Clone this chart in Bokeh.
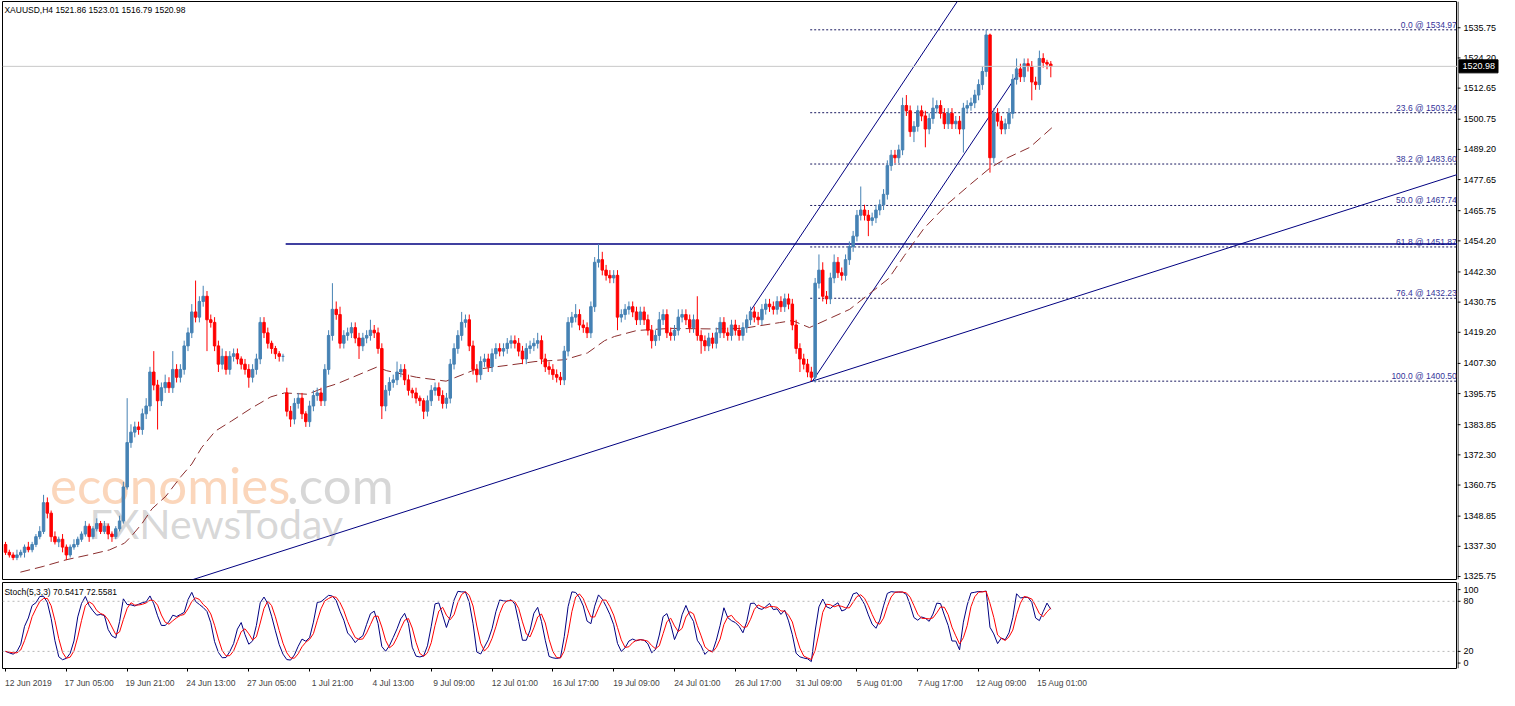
import numpy as np
import pandas as pd
from bokeh.plotting import figure
from bokeh.layouts import column, row
from bokeh.models import Range1d, FixedTicker, LinearAxis, Span, ColumnDataSource
from bokeh.core.properties import value
from bokeh.embed import file_html
from bokeh.resources import INLINE

# XAUUSD H4 closes
closes = [
    1335, 1334, 1333, 1334, 1335, 1337, 1336, 1338, 1341, 1343, 1354, 1350, 1341, 1339, 1340, 1337, 1334, 1337, 1338, 1340,
    1342, 1345, 1341, 1344, 1346, 1343, 1345, 1342, 1341, 1344, 1347, 1360, 1377, 1381, 1383, 1382, 1388, 1391, 1404, 1399,
    1393, 1398, 1400, 1398, 1405, 1402, 1405, 1414, 1419, 1427, 1425, 1431, 1433, 1424, 1423, 1414, 1407, 1410, 1405, 1410,
    1411, 1409, 1407, 1405, 1402, 1405, 1409, 1423, 1419, 1415, 1413, 1411, 1410, 1410, 1389, 1386, 1392, 1394, 1388, 1385,
    1391, 1395, 1396, 1393, 1405, 1418, 1428, 1426, 1415, 1418, 1419, 1421, 1417, 1414, 1417, 1418, 1420, 1419, 1413, 1391,
    1397, 1400, 1401, 1404, 1405, 1401, 1397, 1396, 1394, 1393, 1389, 1393, 1397, 1398, 1395, 1392, 1394, 1407, 1413, 1418,
    1423, 1424, 1414, 1405, 1403, 1408, 1409, 1406, 1411, 1413, 1412, 1413, 1415, 1416, 1415, 1412, 1409, 1413, 1414, 1415,
    1416, 1409, 1406, 1405, 1403, 1402, 1401, 1412, 1423, 1425, 1426, 1422, 1421, 1419, 1429, 1446, 1447, 1443, 1441, 1440,
    1441, 1425, 1426, 1428, 1429, 1427, 1424, 1427, 1424, 1420, 1416, 1418, 1424, 1426, 1419, 1418, 1420, 1425, 1426, 1424,
    1421, 1424, 1418, 1416, 1414, 1417, 1415, 1419, 1423, 1419, 1418, 1422, 1420, 1418, 1421, 1424, 1427, 1425, 1424, 1428,
    1430, 1429, 1428, 1431, 1429, 1432, 1430, 1422, 1413, 1409, 1407, 1404, 1402, 1438, 1443, 1433, 1432, 1440, 1446, 1442,
    1441, 1447, 1452, 1456, 1464, 1466, 1464, 1462, 1463, 1466, 1468, 1472, 1483, 1487, 1486, 1489, 1506, 1504, 1496, 1498,
    1504, 1502, 1497, 1501, 1505, 1506, 1503, 1499, 1503, 1499, 1500, 1497, 1505, 1506, 1507, 1510, 1514, 1519, 1533, 1486,
    1503, 1500, 1497, 1499, 1503, 1516, 1520, 1517, 1522, 1521, 1515, 1514, 1524, 1522.5, 1521.86, 1520.98,
]
first_open = 1338.0
gap_opens = {74: 1396.0}

upper_wick = [
    1, 1, 1, 2, 1, 1, 2, 1, 1, 2, 3, 2, 1, 2, 1, 2, 1, 1, 2, 1,
    1, 2, 1, 1, 2, 1, 2, 1, 1, 1, 2, 2, 17, 3, 2, 2, 2, 3, 2, 8,
    2, 2, 3, 2, 7, 2, 2, 2, 2, 3, 12, 2, 4, 2, 2, 2, 2, 3, 2, 2,
    2, 2, 1, 2, 2, 2, 2, 2, 2, 2, 1, 1, 1, 1, 2, 2, 2, 2, 2, 1,
    2, 2, 2, 2, 2, 2, 10, 3, 3, 2, 2, 2, 2, 2, 2, 2, 4, 2, 2, 2,
    2, 2, 2, 4, 2, 2, 2, 1, 2, 1, 1, 2, 2, 2, 2, 2, 2, 2, 2, 2,
    4, 2, 2, 2, 2, 2, 2, 2, 2, 2, 2, 2, 2, 2, 2, 2, 2, 2, 2, 2,
    3, 2, 2, 2, 2, 2, 2, 2, 2, 2, 4, 2, 2, 2, 2, 2, 6, 3, 2, 2,
    2, 2, 2, 2, 2, 2, 2, 2, 2, 2, 2, 2, 3, 2, 2, 2, 2, 3, 2, 2,
    2, 2, 9, 2, 2, 2, 2, 2, 2, 2, 2, 2, 2, 2, 2, 2, 2, 2, 2, 2,
    2, 2, 2, 2, 2, 2, 2, 2, 2, 2, 2, 2, 2, 2, 6, 3, 2, 2, 3, 2,
    2, 2, 2, 2, 2, 9, 2, 2, 2, 2, 2, 2, 2, 2, 2, 2, 3, 4, 2, 2,
    2, 2, 2, 2, 4, 2, 2, 2, 2, 2, 2, 2, 2, 2, 2, 2, 2, 2, 1.97, 0.5,
    2, 2, 2, 2, 2, 2, 4, 2, 2, 2, 2, 2, 3, 2, 1, 1.15,
]
lower_wick = [
    1, 1, 1, 1, 1, 2, 1, 1, 1, 1, 1, 2, 2, 1, 2, 2, 2, 1, 1, 1,
    1, 1, 2, 1, 1, 1, 1, 2, 2, 1, 1, 1, 1, 2, 2, 2, 2, 2, 2, 2,
    11, 2, 2, 2, 2, 2, 2, 2, 2, 2, 2, 2, 2, 12, 2, 2, 3, 2, 2, 2,
    2, 2, 2, 2, 4, 2, 2, 2, 2, 2, 2, 2, 2, 2, 2, 3, 2, 2, 2, 2,
    2, 2, 2, 2, 2, 2, 2, 2, 2, 2, 2, 2, 2, 5, 2, 2, 2, 2, 2, 5,
    2, 2, 2, 2, 2, 2, 2, 2, 2, 2, 3, 2, 2, 2, 2, 2, 2, 2, 2, 2,
    2, 2, 2, 2, 3, 2, 2, 2, 2, 2, 2, 2, 2, 2, 2, 2, 2, 2, 2, 2,
    2, 2, 2, 2, 2, 2, 2, 2, 2, 2, 2, 2, 2, 2, 2, 2, 2, 2, 2, 2,
    2, 5, 2, 2, 2, 2, 2, 2, 2, 2, 3, 2, 2, 2, 2, 2, 2, 2, 2, 2,
    2, 2, 2, 5, 2, 2, 2, 2, 2, 2, 2, 2, 2, 2, 2, 2, 2, 2, 2, 2,
    2, 2, 2, 2, 2, 2, 2, 2, 2, 5, 2, 2, 1.5, 2, 2, 2, 2, 2, 2, 2,
    2, 2, 2, 2, 2, 2, 2, 6, 2, 2, 2, 2, 2, 2, 2, 2, 2, 2, 2, 4,
    2, 2, 7, 2, 2, 2, 2, 2, 2, 2, 2, 2, 9, 2, 2, 2, 2, 2, 2, 5.7,
    2, 2, 2, 2, 2, 2, 2, 2, 2, 2, 7, 2, 2, 2, 2, 4.19,
]

# moving average (dashed) at these bar positions
ma_bar = [3.9, 9.9, 16.1, 22.1, 27.3, 31.3, 33.3, 35.9, 38.5, 42.2, 46.1, 49.0, 51.6, 55.2, 59.4, 64.6, 69.8,
          73.4, 79.4, 83.9, 87.2, 97.7, 100.3, 108.1, 115.9, 118.5, 123.7, 133.3, 139.3, 147.1, 153.1, 157.6,
          160.2, 166.1, 175.0, 185.4, 194.0, 203.6, 207.0, 211.5, 215.6, 222.1, 232.3, 236.5, 241.7, 247.9,
          253.9, 259.1, 263.5, 269.5, 275.3]
ma_val = [1327.4, 1329.6, 1332.2, 1334.1, 1335.9, 1338.5, 1341.5, 1346.0, 1351.6, 1356.5, 1363.9, 1368.8,
          1375.1, 1381.4, 1385.2, 1390.1, 1394.5, 1396.0, 1395.5, 1398.0, 1399.5, 1405.9, 1404.5, 1402.0,
          1400.5, 1402.0, 1405.0, 1406.8, 1408.0, 1408.7, 1411.3, 1416.0, 1417.6, 1419.9, 1420.7, 1420.5,
          1420.7, 1422.9, 1423.7, 1421.0, 1423.7, 1428.0, 1439.7, 1448.6, 1459.1, 1468.4, 1475.9, 1482.2,
          1485.9, 1490.0, 1497.5]

# drawing objects
fib_levels = ["0.0", "23.6", "38.2", "50.0", "61.8", "76.4", "100.0"]
fib_prices = [1534.97, 1503.24, 1483.60, 1467.74, 1451.87, 1432.23, 1400.50]
fib_start = 211.7
trend_x = [0, 382]
trend_y = [1301.6, 1479.6]
chan_low_x = [212.3, 266.4]
chan_low_y = [1400.5, 1518.3]
chan_up_x = [195.8, 252.0]
chan_up_y = [1427.0, 1549.3]
res_x = [73.7, 382]
res_y = [1453.0, 1453.0]
bid = 1520.98

price_ticks = [1325.75, 1337.30, 1348.85, 1360.75, 1372.30, 1383.85, 1395.75, 1407.30, 1419.20, 1430.75,
               1442.30, 1454.20, 1465.75, 1477.65, 1489.20, 1500.75, 1512.65, 1524.20, 1535.75]
stoch_ticks = [6, 20, 80, 94]
stoch_tick_labels = ["0", "20", "80", "100"]
time_ticks = [0, 16, 32, 48, 64, 80, 96, 112, 128, 144, 160, 176, 192, 208, 224, 240, 256, 272]
time_labels = ["12 Jun 2019", "17 Jun 05:00", "19 Jun 21:00", "24 Jun 13:00", "27 Jun 05:00", "1 Jul 21:00",
               "4 Jul 13:00", "9 Jul 09:00", "12 Jul 01:00", "16 Jul 17:00", "19 Jul 09:00", "24 Jul 01:00",
               "26 Jul 17:00", "31 Jul 09:00", "5 Aug 01:00", "7 Aug 17:00", "12 Aug 09:00", "15 Aug 01:00"]

header = "XAUUSD,H4  1521.86 1523.01 1516.79 1520.98"
stoch_title = "Stoch(5,3,3) 70.5417 72.5581"

FONT = "Liberation Sans"
BULL = "#4682B4"
BEAR = "#FF0000"
NAVY = "#000080"
AXIS_W = 42

n = len(closes)
bars = np.arange(n)
close = np.array(closes, dtype=float)
opens = np.array([first_open] + closes[:-1], dtype=float)
for i, o in gap_opens.items():
    opens[i] = o
high = np.maximum(opens, close) + np.array(upper_wick)
low = np.minimum(opens, close) - np.array(lower_wick)
colors = [BULL if c >= o else BEAR for o, c in zip(opens, close)]

src = ColumnDataSource(dict(x=bars, h=high, l=low, top=np.maximum(opens, close),
                            bot=np.minimum(opens, close), col=colors))

# stochastic 5,3,3 from the candles
hs, ls, cs = pd.Series(high), pd.Series(low), pd.Series(close)
hh = hs.rolling(5, min_periods=1).max()
ll = ls.rolling(5, min_periods=1).min()
num = (cs - ll).rolling(3, min_periods=1).sum()
den = (hh - ll).rolling(3, min_periods=1).sum()
k_line = (100 * num / den).clip(0, 100)
d_line = k_line.rolling(3, min_periods=1).mean()

x_end = 382.0
x_rng = Range1d(-0.8, x_end)


def axis_panel(height, y_range, ticks, labels, top, bottom):
    # MT4 style price scale drawn as its own small panel on the right
    a = figure(width=AXIS_W, height=height, x_range=Range1d(0, AXIS_W), y_range=y_range,
               x_axis_location=None, y_axis_location=None, toolbar_location=None,
               output_backend="svg", min_border_left=0, min_border_right=0,
               min_border_top=top, min_border_bottom=bottom)
    a.outline_line_color = None
    a.grid.grid_line_color = None
    a.add_layout(Span(location=0.5, dimension="height", line_color="black", line_width=1))
    a.segment(x0=[0] * len(ticks), y0=ticks, x1=[3] * len(ticks), y1=ticks, line_color="black")
    a.text(x=[6] * len(ticks), y=ticks, text=labels, text_baseline="middle", text_align="left",
           text_font=value(FONT), text_font_size="9px", text_color="black")
    return a


p = figure(width=1499 - AXIS_W, height=580, x_range=x_rng, y_range=Range1d(1324.6, 1545.8),
           x_axis_location=None, y_axis_location=None, toolbar_location=None,
           output_backend="svg", min_border_left=2, min_border_right=0,
           min_border_top=1, min_border_bottom=1)
p.outline_line_color = "black"
p.grid.grid_line_color = None

# watermark
p.text(x=[11.7], y=[1360.9], text=["economies"], text_font=value("Lato"), text_font_size="51px",
       text_color="#F7AE78", text_alpha=0.5, text_baseline="alphabetic")
p.text(x=[74.0], y=[1360.9], text=[".com"], text_font=value("Lato"), text_font_size="51px",
       text_color="#B0B0B0", text_alpha=0.5, text_baseline="alphabetic")
p.text(x=[22.1], y=[1346.0], text=["FXNewsToday"], text_font=value("Lato"), text_font_size="41px",
       text_color="#A8A8A8", text_alpha=0.45, text_baseline="alphabetic")

p.add_layout(Span(location=bid, dimension="width", line_color="#C8C8C8", line_width=1))

# fibonacci levels
p.segment(x0=[fib_start] * len(fib_prices), y0=fib_prices, x1=[x_end] * len(fib_prices), y1=fib_prices,
          line_color="#1A1A60", line_dash="2 2", line_width=1)
p.text(x=[x_end - 0.2] * len(fib_prices), y=fib_prices,
       text=[f"{lv} @ {pr:.2f}" for lv, pr in zip(fib_levels, fib_prices)],
       text_align="right", text_baseline="bottom", text_font=value(FONT), text_font_size="8.5px",
       text_color="#333399")

# trend / channel lines
p.line(trend_x, trend_y, line_color=NAVY, line_width=1)
p.line(chan_low_x, chan_low_y, line_color=NAVY, line_width=1)
p.line(chan_up_x, chan_up_y, line_color=NAVY, line_width=1)
p.line(res_x, res_y, line_color=NAVY, line_width=1.3)

p.line(ma_bar, ma_val, line_color="#8B2E2E", line_dash="10 5", line_width=1)

p.segment(x0="x", y0="h", x1="x", y1="l", line_color="col", line_width=1, source=src)
p.vbar(x="x", width=0.65, top="top", bottom="bot", fill_color="col", line_color="col", source=src)

p.text(x=[-0.3], y=[1544.3], text=[header], text_baseline="top", text_font=value(FONT),
       text_font_size="8.5px", text_color="black")

pa = axis_panel(580, p.y_range, price_ticks, [f"{t:.2f}" for t in price_ticks], 1, 1)
pa.rect(x=[21], y=[bid], width=[39], height=[13], height_units="screen",
        fill_color="black", line_color="black")
pa.text(x=[5], y=[bid], text=[f"{bid:.2f}"], text_baseline="middle", text_font=value(FONT),
        text_font_size="9px", text_color="white")

# stochastic panel
s = figure(width=1499 - AXIS_W, height=110, x_range=x_rng, y_range=Range1d(-0.5, 102.5),
           y_axis_location=None, toolbar_location=None, output_backend="svg",
           min_border_left=2, min_border_right=0, min_border_top=2, min_border_bottom=20)
s.outline_line_color = "black"
s.grid.grid_line_color = None

xa = s.xaxis[0]
xa.ticker = FixedTicker(ticks=time_ticks)
xa.major_label_overrides = {t: "" for t in time_ticks}
xa.major_label_text_font_size = "1px"
xa.major_label_standoff = 0
xa.major_tick_out = 3
xa.major_tick_in = 0
xa.minor_tick_line_color = None
xa.axis_line_color = None

lab_ticks = [t + 6 for t in time_ticks]
lab_axis = LinearAxis(ticker=FixedTicker(ticks=lab_ticks),
                      major_label_overrides={t: lab for t, lab in zip(lab_ticks, time_labels)},
                      axis_line_color=None, major_tick_line_color=None, minor_tick_line_color=None,
                      major_label_standoff=0, major_label_text_font_size="8.5px",
                      major_label_text_font=FONT)
s.add_layout(lab_axis, "below")

for lvl in (20, 80):
    s.add_layout(Span(location=lvl, dimension="width", line_color="#B8B8B8", line_dash="2 3", line_width=1))
s.line(bars, k_line.values, line_color=NAVY, line_width=1)
s.line(bars, d_line.values, line_color=BEAR, line_width=1)
s.text(x=[-0.3], y=[97.5], text=[stoch_title], text_baseline="top", text_font=value(FONT),
       text_font_size="8.5px", text_color="black")

sa = axis_panel(110, s.y_range, stoch_ticks, stoch_tick_labels, 2, 20)

layout = column(row(p, pa, spacing=0), row(s, sa, spacing=0), spacing=0)
open("out.html", "w").write(file_html(layout, INLINE))
